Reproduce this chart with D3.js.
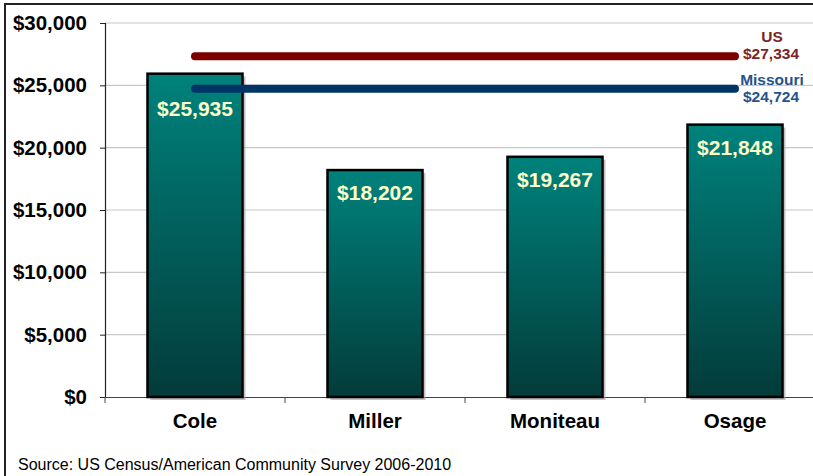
<!DOCTYPE html>
<html><head><meta charset="utf-8">
<script src="https://cdn.jsdelivr.net/npm/d3@7"></script>
<style>html,body{margin:0;padding:0;background:#fff;}svg{display:block;font-family:Arial,"Liberation Sans",sans-serif;}</style>
</head><body>
<svg id="c" width="813" height="476"></svg>
<script>
const categories = ["Cole", "Miller", "Moniteau", "Osage"];
const values = [25935, 18202, 19267, 21848];
const refNames = ["US", "Missouri"];
const refValues = [27334, 24724];
const refColors = ["#7b0000", "#003366"];
const refTextColors = ["#7d2424", "#24528c"];
const yTicks = [0, 5000, 10000, 15000, 20000, 25000, 30000];
const source = "Source: US Census/American Community Survey 2006-2010";

const svg = d3.select("#c");
const fmt = d3.format(",");
const money = v => "$" + fmt(v);
const FONT = "Arial, 'Liberation Sans', sans-serif";

const x = d3.scaleBand().domain(categories).range([105, 825]).paddingInner(0.472).paddingOuter(0.236);
const y = d3.scaleLinear().domain([0, 30000]).range([397, 23]);

// outer border
svg.append("rect").attr("x", 5).attr("y", 4).attr("width", 830).attr("height", 500)
  .attr("fill", "none").attr("stroke", "#222").attr("stroke-width", 2);

// gradient
const defs = svg.append("defs");
const g = defs.append("linearGradient").attr("id", "bg").attr("x1", 0).attr("y1", 0).attr("x2", 0).attr("y2", 1);
g.append("stop").attr("offset", "0%").attr("stop-color", "#00827c");
g.append("stop").attr("offset", "100%").attr("stop-color", "#033b3a");

// gridlines
svg.append("g").selectAll("line").data(yTicks.filter(d => d > 0)).join("line")
  .attr("x1", 105).attr("x2", 813).attr("y1", d => y(d)).attr("y2", d => y(d))
  .attr("stroke", "#c8c8c8").attr("stroke-width", 1.2);

// y axis
const yAxis = svg.append("g").attr("transform", "translate(105,0)")
  .call(d3.axisLeft(y).tickValues(yTicks).tickFormat(money).tickSize(5).tickPadding(13));
yAxis.select(".domain").attr("stroke", "#222").attr("stroke-width", 1.2);
yAxis.selectAll(".tick line").attr("stroke", "#222");
yAxis.selectAll("text").attr("font-size", 20.5).attr("font-weight", "bold").attr("fill", "#000")
  .attr("font-family", FONT);

// x axis
const xAxis = svg.append("g").attr("transform", "translate(0,397)")
  .call(d3.axisBottom(x).tickSize(0).tickPadding(16));
xAxis.select(".domain").remove();
xAxis.selectAll("text").attr("font-size", 20.5).attr("font-weight", "bold").attr("fill", "#000")
  .attr("font-family", FONT);
svg.append("line").attr("x1", 105).attr("x2", 813).attr("y1", 397.5).attr("y2", 397.5)
  .attr("stroke", "#444").attr("stroke-width", 1.2);
const step = x.step();
svg.append("g").selectAll("line").data(d3.range(categories.length + 1)).join("line")
  .attr("x1", i => 105 + i * step).attr("x2", i => 105 + i * step)
  .attr("y1", 397).attr("y2", 403).attr("stroke", "#444");

// bar shadows
svg.append("g").selectAll("rect").data(values).join("rect")
  .attr("x", (d, i) => x(categories[i]) + 3).attr("y", d => y(d) + 3)
  .attr("width", x.bandwidth()).attr("height", d => y(0) - y(d))
  .attr("fill", "#9a9a9a").attr("opacity", 0.6);
// bars
svg.append("g").selectAll("rect").data(values).join("rect")
  .attr("x", (d, i) => x(categories[i])).attr("y", d => y(d))
  .attr("width", x.bandwidth()).attr("height", d => y(0) - y(d))
  .attr("fill", "url(#bg)").attr("stroke", "#000").attr("stroke-width", 2.5);

// reference lines
const x0 = x(categories[0]) + x.bandwidth() / 2;
const x1 = x(categories[categories.length - 1]) + x.bandwidth() / 2;
svg.append("g").selectAll("line").data(refValues).join("line")
  .attr("x1", x0).attr("x2", x1).attr("y1", d => y(d)).attr("y2", d => y(d))
  .attr("stroke", (d, i) => refColors[i]).attr("stroke-width", 8).attr("stroke-linecap", "round");

// reference labels (two-line blocks, nudged apart)
const blockDy = [-11, -1];
const lab = svg.append("g").attr("font-weight", "bold").attr("font-size", 15.5).attr("text-anchor", "middle");
refValues.forEach((v, i) => {
  const c = y(v) + blockDy[i];
  lab.append("text").attr("x", 772).attr("y", c - 3).attr("fill", refTextColors[i]).text(refNames[i]);
  lab.append("text").attr("x", 771).attr("y", c + 14).attr("fill", refTextColors[i]).text(money(v));
});

// value labels
svg.append("g").selectAll("text").data(values).join("text")
  .attr("x", (d, i) => x(categories[i]) + x.bandwidth() / 2)
  .attr("y", d => {
    let b = y(d) + 30;
    refValues.forEach(r => { const ly = y(r); if (b - 16 < ly + 6 && b > ly - 4) b = ly + 27; });
    return b;
  })
  .attr("text-anchor", "middle").attr("font-size", 21).attr("font-weight", "bold")
  .attr("fill", "#ffffc8").text(d => money(d));

// source
svg.append("text").attr("x", 18).attr("y", 470).attr("font-size", 16).attr("fill", "#000").text(source);
</script>
</body></html>
